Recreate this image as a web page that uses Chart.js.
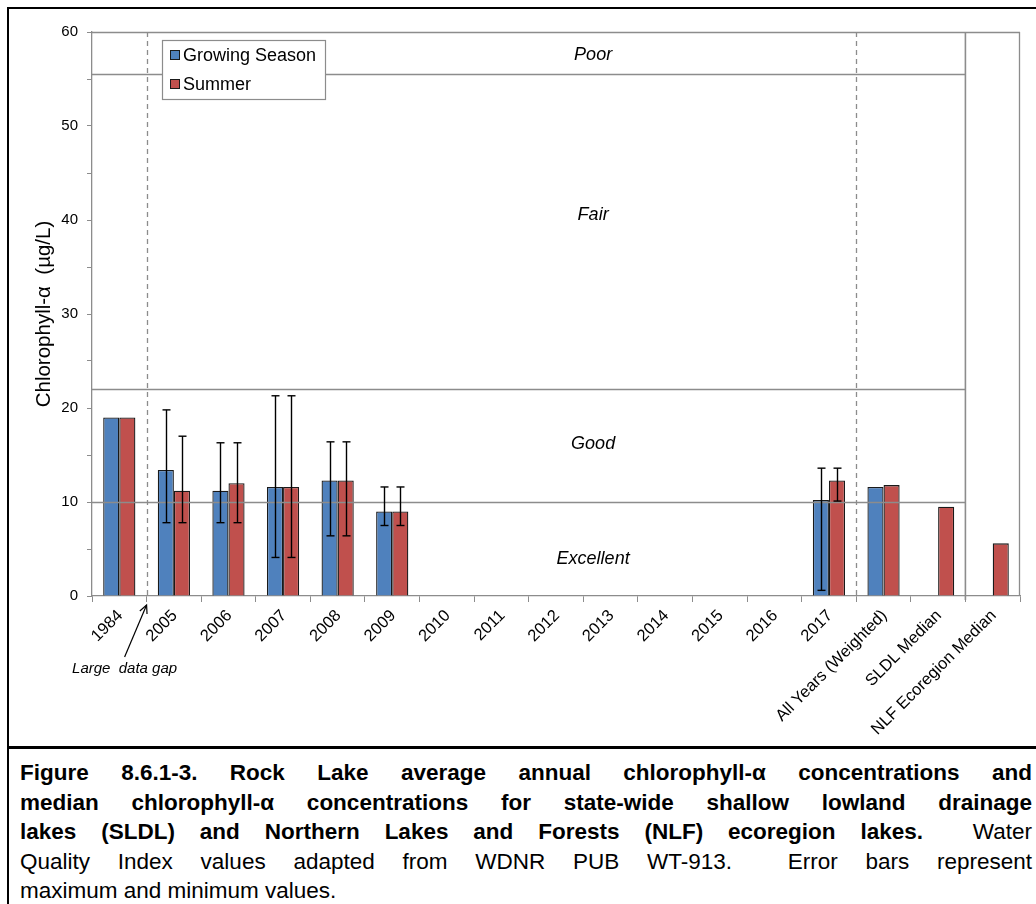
<!DOCTYPE html>
<html><head><meta charset="utf-8">
<script src="https://cdn.jsdelivr.net/npm/chart.js@4.4.1/dist/chart.umd.min.js"></script>
<style>
html,body{margin:0;padding:0;background:#fff;}
body{width:1036px;height:904px;overflow:hidden;position:relative;font-family:"Liberation Sans",Arial,sans-serif;}
#frame{position:absolute;left:7px;top:7px;width:1100px;height:1000px;border-left:2px solid #000;border-top:2px solid #000;}
#sep{position:absolute;left:7px;top:746px;width:1100px;height:3px;background:#000;}
#wrap{position:absolute;left:0;top:0;width:1036px;height:745px;}
#caption{position:absolute;left:20px;top:758px;width:1012px;font-size:22.5px;line-height:29.5px;color:#000;}
.ln{text-align:justify;text-align-last:justify;}
.last{text-align:left;text-align-last:left;}
b{font-weight:bold;}
</style>
</head><body>
<div id="frame"></div>
<div id="sep"></div>
<div id="wrap"><canvas id="c" width="1036" height="745"></canvas></div>
<div id="caption">
<div class="ln"><b>Figure 8.6.1-3. Rock Lake average annual chlorophyll-α concentrations and</b></div>
<div class="ln"><b>median chlorophyll-α concentrations for state-wide shallow lowland drainage</b></div>
<div class="ln"><b>lakes (SLDL) and Northern Lakes and Forests (NLF) ecoregion lakes.</b>&nbsp; Water</div>
<div class="ln">Quality Index values adapted from WDNR PUB WT-913.&nbsp; Error bars represent</div>
<div class="ln last">maximum and minimum values.</div>
</div>
<script>
// ---------- data ----------
const categories = ['1984','2005','2006','2007','2008','2009','2010','2011','2012','2013','2014','2015','2016','2017','All Years (Weighted)','SLDL Median','NLF Ecoregion Median'];
const growingSeason = [19.0,13.4,11.2,11.6,12.3,9.0,null,null,null,null,null,null,null,10.2,11.6,null,null];
const summer        = [19.0,11.2,12.0,11.6,12.3,9.0,null,null,null,null,null,null,null,12.3,11.8,9.5,5.6];
const growingMax    = [null,19.8,16.3,21.3,16.4,11.6,null,null,null,null,null,null,null,13.6,null,null,null];
const growingMin    = [null,7.8,7.8,4.1,6.4,7.5,null,null,null,null,null,null,null,0.6,null,null,null];
const summerMax     = [null,17.0,16.3,21.3,16.4,11.6,null,null,null,null,null,null,null,13.6,null,null,null];
const summerMin     = [null,7.8,7.8,4.1,6.4,7.5,null,null,null,null,null,null,null,10.1,null,null,null];
const seriesNames   = ['Growing Season','Summer'];
const qualityBounds = [10,22,55.5];
const qualityLabels = ['Excellent','Good','Fair','Poor'];
const qualityLabelValues = [3.9,16.2,40.5,57.6];
const yTickStep = 5, yLabelStep = 10, yMin = 0, yMax = 60;
const gapNote = 'Large  data gap';
const yTitle = 'Chlorophyll-α  (µg/L)';

const BLUE = '#4F81BD', RED = '#C0504D', GRAY = '#8c8c8c', EDGE = '#1a1a1a';
const FONT = '"Liberation Sans", Arial, sans-serif';

const errorSets = [[growingMax, growingMin],[summerMax, summerMin]];

const overlay = {
  id:'overlay',
  afterDatasetsDraw(chart){
    const {ctx, chartArea:a, scales:{x,y}} = chart;
    const bnd = i => (x.getPixelForValue(i)+x.getPixelForValue(i+1))/2;
    const line = (x1,y1,x2,y2)=>{ctx.beginPath();ctx.moveTo(x1,y1);ctx.lineTo(x2,y2);ctx.stroke();};
    ctx.save();
    ctx.strokeStyle = GRAY; ctx.lineWidth = 1.3;
    line(a.left, a.top+0.5, a.right, a.top+0.5);
    line(a.right-0.5, a.top, a.right-0.5, a.bottom);
    const qEnd = bnd(15);
    qualityBounds.forEach(v=>{const py=Math.round(y.getPixelForValue(v))+0.5; line(a.left,py,qEnd,py);});
    ctx.lineWidth = 1.6;
    line(qEnd, a.top, qEnd, a.bottom+4);
    ctx.lineWidth = 1.3;
    ctx.setLineDash([5,4]);
    [0,13].forEach(i=>{const px=Math.round(bnd(i))+0.5; line(px,a.top,px,a.bottom);});
    ctx.setLineDash([]);
    ctx.strokeStyle = '#000'; ctx.lineWidth = 1.4;
    errorSets.forEach((pair, di)=>{
      const meta = chart.getDatasetMeta(di);
      pair[0].forEach((mx, j)=>{
        const mn = pair[1][j];
        if (mx==null || mn==null) return;
        const el = meta.data[j]; if(!el) return;
        const px = Math.round(el.x)+0.5;
        const y1 = y.getPixelForValue(mx), y2 = y.getPixelForValue(mn);
        line(px,y1,px,y2);
        line(px-4,y1,px+4,y1);
        line(px-4,y2,px+4,y2);
      });
    });
    ctx.restore();
  },
  afterDraw(chart){
    const {ctx, chartArea:a, scales:{x,y}} = chart;
    ctx.save();
    ctx.fillStyle = '#000';
    ctx.font = 'italic 18px '+FONT;
    ctx.textAlign = 'center'; ctx.textBaseline = 'middle';
    const lx = x.getPixelForValue(8.68);
    qualityLabels.forEach((t,i)=>ctx.fillText(t, lx, y.getPixelForValue(qualityLabelValues[i])));
    const L = a.left+70, T = a.top+8;
    ctx.fillStyle = '#fff'; ctx.fillRect(L, T, 163, 59);
    ctx.strokeStyle = GRAY; ctx.lineWidth = 1.2; ctx.strokeRect(L+0.5, T+0.5, 163, 59);
    [BLUE, RED].forEach((c,i)=>{
      const cy = T + 15 + i*29;
      ctx.fillStyle = c; ctx.fillRect(L+8, cy-5, 10, 10);
      ctx.strokeStyle = EDGE; ctx.lineWidth = 1; ctx.strokeRect(L+8.5, cy-4.5, 9, 9);
      ctx.fillStyle = '#000'; ctx.font = '18px '+FONT; ctx.textAlign='left'; ctx.textBaseline='middle';
      ctx.fillText(seriesNames[i], L+21, cy+1);
    });
    const tipX = (x.getPixelForValue(0)+x.getPixelForValue(1))/2;
    const tipY = a.bottom + 9;
    const tailX = tipX - 22, tailY = tipY + 52;
    ctx.strokeStyle = '#000'; ctx.lineWidth = 1.2;
    ctx.beginPath(); ctx.moveTo(tailX, tailY); ctx.lineTo(tipX, tipY); ctx.stroke();
    const ang = Math.atan2(tipY-tailY, tipX-tailX);
    ctx.beginPath();
    ctx.moveTo(tipX - 9*Math.cos(ang-0.45), tipY - 9*Math.sin(ang-0.45));
    ctx.lineTo(tipX, tipY);
    ctx.lineTo(tipX - 9*Math.cos(ang+0.45), tipY - 9*Math.sin(ang+0.45));
    ctx.stroke();
    ctx.fillStyle = '#000'; ctx.font = 'italic 15px '+FONT; ctx.textAlign='center'; ctx.textBaseline='middle';
    ctx.fillText(gapNote, tailX, tailY + 12);
    ctx.restore();
  }
};

new Chart(document.getElementById('c'), {
  type:'bar',
  data:{
    labels: categories,
    datasets:[
      {label:seriesNames[0], data:growingSeason, backgroundColor:BLUE, borderColor:EDGE, borderWidth:1.3},
      {label:seriesNames[1], data:summer, backgroundColor:RED, borderColor:EDGE, borderWidth:1.3}
    ]
  },
  options:{
    responsive:false, animation:false,
    layout:{padding:{left:32, right:16, top:32, bottom:0}},
    datasets:{bar:{categoryPercentage:0.59, barPercentage:1.0}},
    plugins:{legend:{display:false}, tooltip:{enabled:false}},
    scales:{
      x:{
        grid:{display:true, drawOnChartArea:false, drawTicks:true, tickLength:6, color:GRAY, offset:true},
        border:{display:true, color:GRAY, width:1.3},
        ticks:{color:'#000', font:{family:FONT, size:16.5}, maxRotation:45, minRotation:45, autoSkip:false, padding:4, labelOffset:1},
        afterFit(s){ s.height = 149; }
      },
      y:{
        min:yMin, max:yMax,
        grid:{display:true, drawOnChartArea:false, drawTicks:true, tickLength:5, color:GRAY},
        border:{display:true, color:GRAY, width:1.3},
        ticks:{stepSize:yTickStep, color:'#000', font:{family:FONT, size:15}, padding:9,
               callback:v => (v % yLabelStep === 0 ? v : '')},
        title:{display:true, text:yTitle, color:'#000', font:{family:FONT, size:20.5}, padding:{top:0,bottom:0}},
        afterFit(s){ s.width = 60; }
      }
    }
  },
  plugins:[overlay]
});

// guard: keep each caption line on one line
(function(){
  const cap = document.getElementById('caption');
  let fs = 22.5;
  cap.querySelectorAll('.ln').forEach(el=>{ while (el.scrollHeight > 36 && fs > 12) { fs -= 0.25; cap.style.fontSize = fs+'px'; } });
})();
</script>
</body></html>
